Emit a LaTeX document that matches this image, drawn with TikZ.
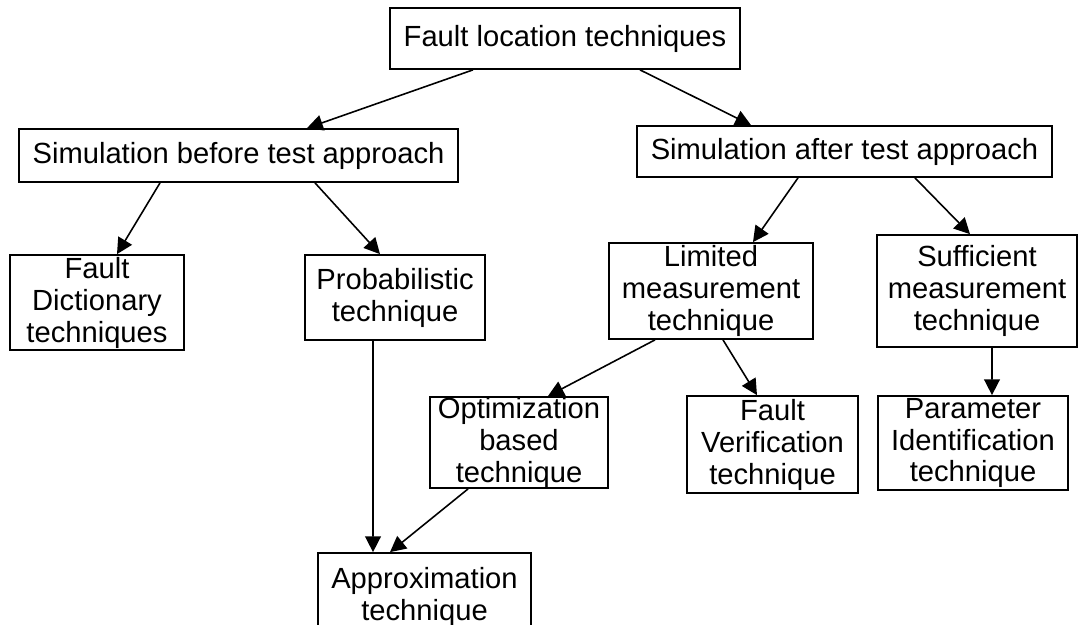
\documentclass[tikz,border=0pt]{standalone}
\usepackage{fontspec}
\setmainfont{Liberation Sans}
\usetikzlibrary{arrows.meta}
\begin{document}
\begin{tikzpicture}[x=0.02cm,y=-0.02cm,>={Triangle[length=9pt,width=9pt]}]
			\useasboundingbox (0,0) rectangle (1080,625);
			\clip (0,0) rectangle (1080,625);
			\begin{scope}[every node/.style={rectangle,draw,line width=1pt,align=center,inner sep=0pt,font=\fontsize{16.6}{18.2}\selectfont}]
				\node[minimum width=7cm,minimum height=1.22cm] (top) at (565,38.5) {Fault location techniques};
				\node[minimum width=8.78cm,minimum height=1.06cm] (sb) at (238.5,155.5) {Simulation before test approach};
				\node[minimum width=8.3cm,minimum height=1.02cm] (sa) at (844.5,151.5) {Simulation after test approach};
				\node[minimum width=3.48cm,minimum height=1.9cm] (fd) at (97,302.5) {Fault\\Dictionary\\techniques};
				\node[minimum width=3.6cm,minimum height=1.7cm] (pr) at (395,297.5) {Probabilistic\\technique};
				\node[minimum width=4.08cm,minimum height=1.92cm] (lm) at (711,291) {Limited\\measurement\\technique};
				\node[minimum width=4cm,minimum height=2.24cm] (sf) at (977,291) {Sufficient\\measurement\\technique};
				\node[minimum width=3.56cm,minimum height=1.78cm] (op) at (519,442.5) {Optimization\\based\\technique};
				\node[minimum width=3.42cm,minimum height=1.94cm] (fv) at (772.5,444.5) {Fault\\Verification\\technique};
				\node[minimum width=3.8cm,minimum height=1.88cm] (pi) at (973,443) {Parameter\\Identification\\technique};
				\node[minimum width=4.26cm,minimum height=1.74cm] (ap) at (424.5,596.5) {Approximation\\technique};
			\end{scope}
			\begin{scope}[line width=0.9pt]
				\path [->] ([xshift=-1.84cm]top.south) edge ([xshift=1.37cm]sb.north);
				\path [->] ([xshift=1.5cm]top.south) edge ([xshift=-1.87cm]sa.north);
				\path [->] ([xshift=-1.57cm]sb.south) edge ([xshift=0.4cm]fd.north);
				\path [->] ([xshift=1.53cm]sb.south) edge ([xshift=-0.3cm]pr.north);
				\path [->] ([xshift=-0.93cm]sa.south) edge ([xshift=0.84cm]lm.north);
				\path [->] ([xshift=1.41cm]sa.south) edge ([xshift=-0.14cm]sf.north);
				\path [->] ([xshift=-1.12cm]lm.south) edge ([xshift=0.58cm]op.north);
				\path [->] ([xshift=0.24cm]lm.south) edge ([xshift=-0.31cm]fv.north);
				\path [->] ([xshift=0.3cm]sf.south) edge ([xshift=0.38cm]pi.north);
				\path [->] ([xshift=-0.44cm]pr.south) edge ([xshift=-1.03cm]ap.north);
				\path [->] ([xshift=-1.02cm]op.south) edge ([xshift=-0.69cm]ap.north);
			\end{scope}
		\end{tikzpicture}
\end{document}
